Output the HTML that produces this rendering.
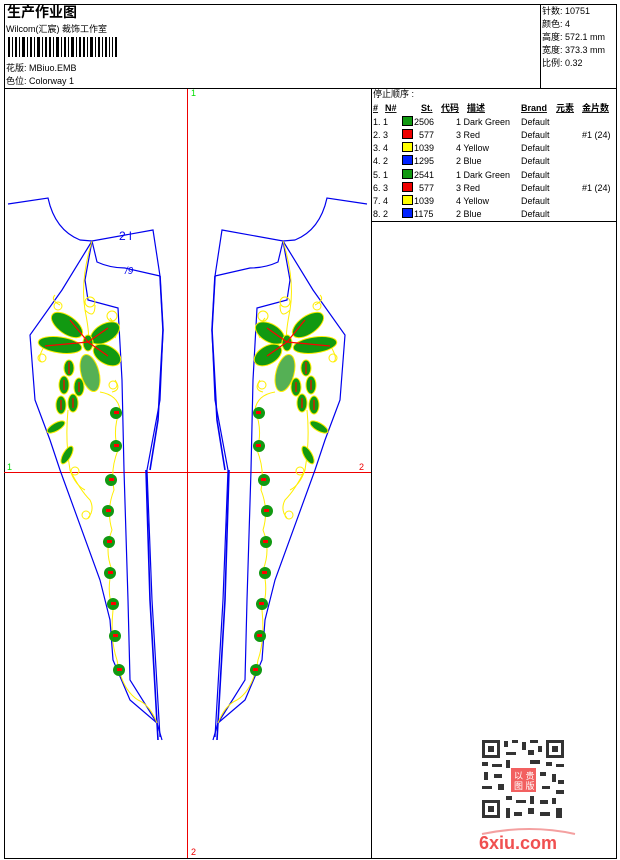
<!DOCTYPE html>
<html><head><meta charset="utf-8"><style>
body{margin:0;background:#fff;width:620px;height:860px;overflow:hidden}
svg{display:block}
text{font-family:"Liberation Sans","Noto Sans CJK SC",sans-serif;font-size:9px;fill:#000}
</style></head><body>
<svg width="620" height="860" viewBox="0 0 620 860" xmlns="http://www.w3.org/2000/svg">
<defs>
<g id="piece">
 <g fill="none" stroke="#0000ee" stroke-width="1.2">
  <path d="M8,204 L48,198 Q55,230 80,240 L92,241 L153,230 L160,276 L163,330 L160,400 L147,470 L152,600 L160,737"/>
  <path d="M92,241 L97,262 Q110,268 125,268 L160,276"/>
  <path d="M92,241 L85,280 L88,300 L118,308 L122,380 L124,470 L128,600 L130,680 L157,723"/>
  <path d="M92,241 L62,290 L30,335 L35,400 L50,440 L60,470 L100,580 L110,620 L113,660 L130,700 L157,723 L162,740"/>
  <path d="M160,276 L163,330 L158,420 L150,470" stroke-width="1.6"/>
  <path d="M146,470 L150,600 L158,740" stroke-width="1.6"/>
 </g>
 <g fill="none" stroke="#ffee00" stroke-width="1">
  <path d="M92,241 Q80,280 85,310 Q90,335 88,342"/>
  <path d="M85,310 Q95,320 95,305"/>
  <circle cx="90" cy="302" r="5"/>
  <path d="M60,305 Q50,300 55,295"/><circle cx="58" cy="306" r="4"/>
  <path d="M110,318 Q120,330 115,338"/><circle cx="112" cy="316" r="5"/>
  <path d="M45,345 Q36,360 42,362"/><circle cx="42" cy="358" r="4"/>
  <path d="M115,380 Q122,390 112,392"/><circle cx="113" cy="385" r="4"/>
  <path d="M100,392 Q118,395 120,410 Q112,430 118,450 Q110,470 114,490 Q106,510 112,530 Q104,550 112,570 Q106,590 113,610 Q110,640 117,660 Q122,690 138,700 Q150,705 157,723"/>
  <path d="M68,410 Q65,440 70,470 Q80,490 90,500 Q95,510 88,518"/>
  <path d="M70,470 Q75,485 85,490"/><circle cx="86" cy="515" r="4"/>
  <circle cx="75" cy="471" r="4"/>
 </g>
 <g fill="#119911" stroke="#ffee00" stroke-width="1">
  <ellipse cx="67" cy="325" rx="18" ry="9" transform="rotate(35 67 325)"/>
  <ellipse cx="60" cy="345" rx="22" ry="8" transform="rotate(8 60 345)"/>
  <ellipse cx="105" cy="333" rx="16" ry="9" transform="rotate(-30 105 333)"/>
  <ellipse cx="107" cy="355" rx="15" ry="9" transform="rotate(30 107 355)"/>
  <ellipse cx="90" cy="373" rx="9" ry="19" transform="rotate(-15 90 373)" fill="#55b055"/>
  <ellipse cx="88" cy="343" rx="5" ry="8"/>
  <ellipse cx="69" cy="368" rx="5" ry="8"/>
  <ellipse cx="64" cy="385" rx="5" ry="9"/>
  <ellipse cx="79" cy="387" rx="5" ry="9"/>
  <ellipse cx="61" cy="405" rx="5" ry="9"/>
  <ellipse cx="73" cy="403" rx="5" ry="9"/>
  <ellipse cx="56" cy="427" rx="10" ry="4" transform="rotate(-30 56 427)"/>
  <ellipse cx="67" cy="455" rx="4" ry="10" transform="rotate(30 67 455)"/>
 </g>
 <g stroke="#ff0000" stroke-width="1.2" fill="none">
  <path d="M88,342 L70,320 M88,342 L45,346 M88,342 L108,328 M88,342 L108,356 M69,362 L69,374 M64,380 L64,390 M79,382 L79,392 M61,400 L61,410 M73,398 L73,408"/>
 </g>
 <g fill="#119911">
  <circle cx="116" cy="413" r="6"/><circle cx="116" cy="446" r="6"/>
  <circle cx="111" cy="480" r="6"/><circle cx="108" cy="511" r="6"/>
  <circle cx="109" cy="542" r="6"/><circle cx="110" cy="573" r="6"/>
  <circle cx="113" cy="604" r="6"/><circle cx="115" cy="636" r="6"/>
  <circle cx="119" cy="670" r="6"/>
 </g>
 <g fill="#ff0000">
  <rect x="114" y="411" width="5" height="3"/><rect x="114" y="444" width="5" height="3"/>
  <rect x="109" y="478" width="5" height="3"/><rect x="106" y="509" width="5" height="3"/>
  <rect x="107" y="540" width="5" height="3"/><rect x="108" y="571" width="5" height="3"/>
  <rect x="111" y="602" width="5" height="3"/><rect x="113" y="634" width="5" height="3"/>
  <rect x="117" y="668" width="5" height="3"/>
 </g>
</g>
</defs>

<rect x="4.5" y="4.5" width="612" height="854" fill="none" stroke="#000" stroke-width="1"/>
<line x1="4" y1="88.5" x2="617" y2="88.5" stroke="#000"/>
<line x1="540.5" y1="4" x2="540.5" y2="88" stroke="#000"/>
<line x1="371.5" y1="88" x2="371.5" y2="858" stroke="#000"/>
<line x1="371" y1="221.5" x2="617" y2="221.5" stroke="#000"/>

<text x="7" y="17" style="font-size:14px;font-weight:bold">生产作业图</text>
<text x="6" y="32">Wilcom(汇宸) 裁饰工作室</text>
<g fill="#000">
<rect x="8" y="37" width="2" height="20"/><rect x="12" y="37" width="1" height="20"/><rect x="15" y="37" width="2" height="20"/><rect x="19" y="37" width="1" height="20"/><rect x="22" y="37" width="3" height="20"/><rect x="27" y="37" width="1" height="20"/><rect x="30" y="37" width="2" height="20"/><rect x="34" y="37" width="1" height="20"/><rect x="37" y="37" width="3" height="20"/><rect x="42" y="37" width="1" height="20"/><rect x="45" y="37" width="2" height="20"/><rect x="49" y="37" width="2" height="20"/><rect x="53" y="37" width="1" height="20"/><rect x="56" y="37" width="3" height="20"/><rect x="61" y="37" width="1" height="20"/><rect x="64" y="37" width="2" height="20"/><rect x="68" y="37" width="1" height="20"/><rect x="71" y="37" width="3" height="20"/><rect x="76" y="37" width="1" height="20"/><rect x="79" y="37" width="2" height="20"/><rect x="83" y="37" width="2" height="20"/><rect x="87" y="37" width="1" height="20"/><rect x="90" y="37" width="3" height="20"/><rect x="95" y="37" width="1" height="20"/><rect x="98" y="37" width="2" height="20"/><rect x="102" y="37" width="1" height="20"/><rect x="105" y="37" width="2" height="20"/><rect x="109" y="37" width="1" height="20"/><rect x="112" y="37" width="1" height="20"/><rect x="115" y="37" width="2" height="20"/>
</g>
<text x="6" y="71">花版:  MBiuo.EMB</text>
<text x="6" y="84">色位:  Colorway 1</text>

<text x="542" y="14">针数: 10751</text>
<text x="542" y="27">颜色: 4</text>
<text x="542" y="40">高度: 572.1 mm</text>
<text x="542" y="53">宽度: 373.3 mm</text>
<text x="542" y="66">比例: 0.32</text>

<text x="373" y="97">停止顺序 :</text>
<text x="373" y="111" style="font-weight:bold" text-decoration="underline">#</text>
<text x="385" y="111" style="font-weight:bold" text-decoration="underline">N#</text>
<text x="421" y="111" style="font-weight:bold" text-decoration="underline">St.</text>
<text x="441" y="111" style="font-weight:bold" text-decoration="underline">代码</text>
<text x="467" y="111" style="font-weight:bold" text-decoration="underline">描述</text>
<text x="521" y="111" style="font-weight:bold" text-decoration="underline">Brand</text>
<text x="556" y="111" style="font-weight:bold" text-decoration="underline">元素</text>
<text x="582" y="111" style="font-weight:bold" text-decoration="underline">金片数</text>
<g stroke="#000" stroke-width="1">
<rect x="402.5" y="116.5" width="10" height="9" fill="#119911"/>
<rect x="402.5" y="129.5" width="10" height="9" fill="#ee0000"/>
<rect x="402.5" y="142.5" width="10" height="9" fill="#ffff00"/>
<rect x="402.5" y="155.5" width="10" height="9" fill="#0022ff"/>
<rect x="402.5" y="169.5" width="10" height="9" fill="#119911"/>
<rect x="402.5" y="182.5" width="10" height="9" fill="#ee0000"/>
<rect x="402.5" y="195.5" width="10" height="9" fill="#ffff00"/>
<rect x="402.5" y="208.5" width="10" height="9" fill="#0022ff"/>
</g>
<g>
<text x="373" y="125">1.  1</text><text x="414" y="125">2506</text><text x="456" y="125">1  Dark Green</text><text x="521" y="125">Default</text>
<text x="373" y="138">2.  3</text><text x="419" y="138">577</text><text x="456" y="138">3  Red</text><text x="521" y="138">Default</text><text x="582" y="138">#1 (24)</text>
<text x="373" y="151">3.  4</text><text x="414" y="151">1039</text><text x="456" y="151">4  Yellow</text><text x="521" y="151">Default</text>
<text x="373" y="164">4.  2</text><text x="414" y="164">1295</text><text x="456" y="164">2  Blue</text><text x="521" y="164">Default</text>
<text x="373" y="178">5.  1</text><text x="414" y="178">2541</text><text x="456" y="178">1  Dark Green</text><text x="521" y="178">Default</text>
<text x="373" y="191">6.  3</text><text x="419" y="191">577</text><text x="456" y="191">3  Red</text><text x="521" y="191">Default</text><text x="582" y="191">#1 (24)</text>
<text x="373" y="204">7.  4</text><text x="414" y="204">1039</text><text x="456" y="204">4  Yellow</text><text x="521" y="204">Default</text>
<text x="373" y="217">8.  2</text><text x="414" y="217">1175</text><text x="456" y="217">2  Blue</text><text x="521" y="217">Default</text>
</g>

<line x1="187.5" y1="89" x2="187.5" y2="858" stroke="#ee0000"/>
<line x1="4" y1="472.5" x2="371" y2="472.5" stroke="#ee0000"/>
<text x="191" y="96" style="fill:#00dd00;font-size:9px">1</text>
<text x="191" y="855" style="fill:#ee0000;font-size:9px">2</text>
<text x="7" y="470" style="fill:#00dd00;font-size:9px">1</text>
<text x="359" y="470" style="fill:#ee0000;font-size:9px">2</text>

<use href="#piece"/>
<use href="#piece" transform="matrix(-1 0 0 1 375 0)"/>
<text x="119" y="240" style="font-size:12px;fill:#0000ee">2 l</text>
<text x="125" y="274" style="font-size:10px;fill:#0000ee;font-style:italic">/9</text>

<g fill="#333">
<rect x="481" y="739" width="84" height="80" fill="#fff"/>
<rect x="482" y="740" width="18" height="18"/><rect x="485" y="743" width="12" height="12" fill="#fff"/><rect x="488" y="746" width="6" height="6"/>
<rect x="546" y="740" width="18" height="18"/><rect x="549" y="743" width="12" height="12" fill="#fff"/><rect x="552" y="746" width="6" height="6"/>
<rect x="482" y="800" width="18" height="18"/><rect x="485" y="803" width="12" height="12" fill="#fff"/><rect x="488" y="806" width="6" height="6"/>
<rect x="504" y="741" width="4" height="6"/><rect x="512" y="740" width="6" height="3"/><rect x="522" y="742" width="4" height="8"/><rect x="530" y="740" width="8" height="3"/><rect x="538" y="746" width="4" height="6"/>
<rect x="506" y="752" width="10" height="3"/><rect x="528" y="750" width="6" height="5"/>
<rect x="482" y="762" width="6" height="4"/><rect x="492" y="764" width="10" height="3"/><rect x="506" y="760" width="4" height="8"/><rect x="530" y="760" width="10" height="4"/><rect x="546" y="762" width="6" height="4"/><rect x="556" y="764" width="8" height="3"/>
<rect x="484" y="772" width="4" height="8"/><rect x="494" y="774" width="8" height="4"/><rect x="540" y="772" width="6" height="4"/><rect x="552" y="774" width="4" height="8"/><rect x="558" y="780" width="6" height="4"/>
<rect x="482" y="786" width="10" height="3"/><rect x="498" y="784" width="6" height="6"/><rect x="542" y="786" width="8" height="3"/><rect x="556" y="790" width="8" height="4"/>
<rect x="506" y="796" width="6" height="4"/><rect x="516" y="800" width="10" height="3"/><rect x="530" y="796" width="4" height="8"/><rect x="540" y="800" width="8" height="4"/><rect x="552" y="798" width="4" height="6"/>
<rect x="506" y="808" width="4" height="10"/><rect x="514" y="812" width="8" height="4"/><rect x="528" y="808" width="6" height="6"/><rect x="540" y="812" width="10" height="4"/><rect x="556" y="808" width="6" height="10"/>
</g>
<rect x="511" y="768" width="25" height="24" fill="#f26060"/>
<text x="514" y="779" style="fill:#fff;font-size:9px">以 贵</text>
<text x="514" y="789" style="fill:#fff;font-size:9px">图 版</text>
<path d="M482,834 Q530,824 575,834" fill="none" stroke="#f4a0a0" stroke-width="2"/>
<text x="479" y="849" style="fill:#f05050;font-size:18px;font-weight:bold">6xiu.com</text>
</svg>
</body></html>
